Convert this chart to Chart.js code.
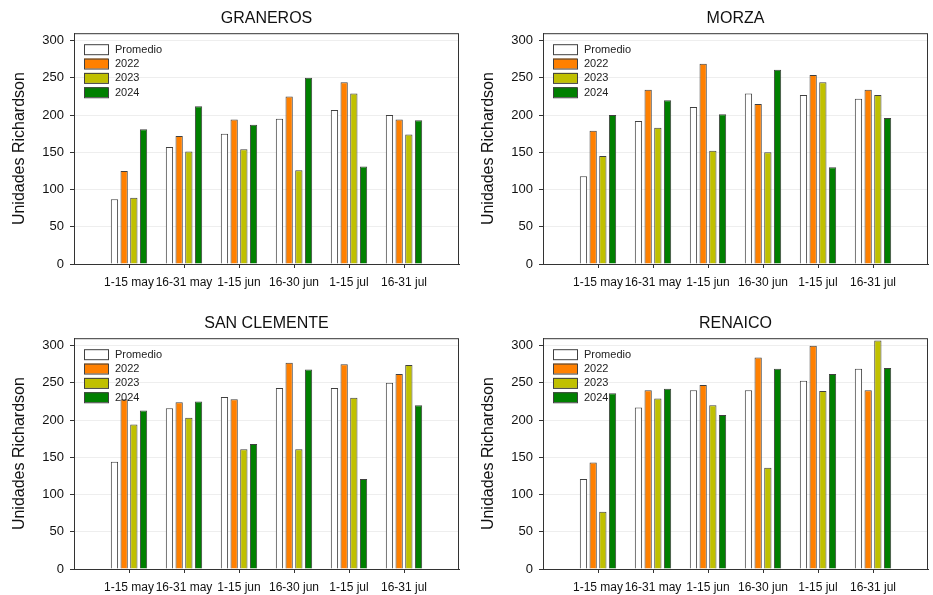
<!DOCTYPE html>
<html>
<head>
<meta charset="utf-8">
<script src="https://cdn.jsdelivr.net/npm/chart.js@4.4.1/dist/chart.umd.min.js"></script>
<style>
  html, body { margin: 0; padding: 0; background: #fff; }
  body { width: 933px; height: 595px; position: relative; overflow: hidden; }
  canvas { position: absolute; }
</style>
</head>
<body>
<canvas id="c1" width="466" height="298" style="left:0px;top:0px"></canvas>
<canvas id="c2" width="466" height="298" style="left:469px;top:0px"></canvas>
<canvas id="c3" width="466" height="290" style="left:0px;top:305px"></canvas>
<canvas id="c4" width="466" height="290" style="left:469px;top:305px"></canvas>
<script>
// periodos (eje x)
var periods = ['1-15 may', '16-31 may', '1-15 jun', '16-30 jun', '1-15 jul', '16-31 jul'];
var seriesNames = ['Promedio', '2022', '2023', '2024'];
var yTicks = [0, 50, 100, 150, 200, 250, 300];

// GRANEROS
var granerosProm = [87, 157, 175, 195, 207, 200];
var graneros2022 = [125, 172, 194, 225, 244, 194];
var graneros2023 = [89, 151, 154, 126, 229, 174];
var graneros2024 = [181, 212, 187, 250, 131, 193];

// MORZA
var morzaProm = [118, 192, 211, 229, 227, 222];
var morza2022 = [179, 234, 269, 215, 254, 234];
var morza2023 = [145, 183, 152, 150, 244, 227];
var morza2024 = [200, 220, 201, 261, 130, 196];

// SAN CLEMENTE
var sanClementeProm = [144, 216, 231, 243, 243, 250];
var sanClemente2022 = [228, 224, 228, 277, 275, 262];
var sanClemente2023 = [194, 203, 161, 161, 230, 274];
var sanClemente2024 = [213, 225, 168, 268, 121, 220];

// RENAICO
var renaicoProm = [121, 217, 240, 240, 253, 269];
var renaico2022 = [143, 240, 247, 284, 300, 240];
var renaico2023 = [77, 229, 220, 136, 239, 307];
var renaico2024 = [236, 242, 207, 269, 262, 270];

var colors = ['#ffffff', '#ff8000', '#c0c000', '#008000'];
var FONT = "'Liberation Sans', Arial, sans-serif";
Chart.defaults.font.family = FONT;
Chart.defaults.color = '#111';

// recuadro alrededor del area del grafico
var framePlugin = {
  id: 'frame',
  afterDraw: function (chart) {
    var a = chart.chartArea, ctx = chart.ctx;
    ctx.save();
    ctx.strokeStyle = '#333';
    ctx.lineWidth = 1;
    ctx.strokeRect(a.left + 0.5, a.top + 0.5, a.right - a.left - 1, a.bottom - a.top);
    ctx.restore();
  }
};

// leyenda dentro del area del grafico
var legendPlugin = {
  id: 'innerLegend',
  afterDatasetsDraw: function (chart) {
    var a = chart.chartArea, ctx = chart.ctx;
    ctx.save();
    chart.data.datasets.forEach(function (ds, i) {
      var cy = a.top + 16 + i * 14.35;
      ctx.fillStyle = ds.backgroundColor;
      ctx.fillRect(a.left + 10, cy - 5, 24, 10);
      ctx.strokeStyle = '#404040';
      ctx.lineWidth = 1;
      ctx.strokeRect(a.left + 10.5, cy - 4.5, 24, 10);
      ctx.fillStyle = '#222';
      ctx.font = '11px ' + FONT;
      ctx.textBaseline = 'middle';
      ctx.textAlign = 'left';
      ctx.fillText(ds.label, a.left + 41, cy + 0.5);
    });
    ctx.restore();
  }
};

function makeChart(id, title, series, bottomH) {
  var labels = [''].concat(periods).concat(['']);
  var datasets = series.map(function (vals, i) {
    return {
      label: seriesNames[i],
      data: [null].concat(vals).concat([null]),
      backgroundColor: colors[i],
      borderColor: '#404040',
      borderWidth: 1,
      categoryPercentage: 0.705,
      barPercentage: 0.75
    };
  });
  return new Chart(document.getElementById(id), {
    type: 'bar',
    data: { labels: labels, datasets: datasets },
    options: {
      responsive: false,
      animation: false,
      devicePixelRatio: 1,
      layout: { padding: { left: 0, right: 6.7, top: 0, bottom: 0 } },
      plugins: {
        legend: { display: false },
        tooltip: { enabled: false },
        title: {
          display: true,
          text: title,
          fullSize: false,
          color: '#111',
          font: { size: 16, weight: 'normal' },
          padding: { top: 9, bottom: 5 }
        }
      },
      scales: {
        x: {
          type: 'category',
          offset: false,
          grid: {
            offset: false,
            drawOnChartArea: false,
            tickLength: 4,
            tickColor: function (c) {
              return (c.index === 0 || c.index === labels.length - 1) ? 'rgba(0,0,0,0)' : '#333';
            }
          },
          border: { display: true, color: '#333' },
          ticks: { autoSkip: false, maxRotation: 0, minRotation: 0, padding: 7, color: '#111', font: { size: 12 } },
          afterFit: function (s) { s.height = bottomH; }
        },
        y: {
          min: yTicks[0],
          max: 310,
          grid: { color: '#eeeeee', tickColor: '#333', tickLength: 4 },
          border: { display: true, color: '#333' },
          afterBuildTicks: function (s) { s.ticks = yTicks.map(function (v) { return { value: v }; }); },
          ticks: { padding: 6, color: '#111', font: { size: 13 } },
          title: {
            display: true,
            text: 'Unidades Richardson',
            color: '#111',
            font: { size: 16 },
            padding: { top: 10, bottom: 0 }
          },
          afterFit: function (s) { s.width = 74; }
        }
      }
    },
    plugins: [legendPlugin, framePlugin]
  });
}

makeChart('c1', 'GRANEROS', [granerosProm, graneros2022, graneros2023, graneros2024], 34);
makeChart('c2', 'MORZA', [morzaProm, morza2022, morza2023, morza2024], 34);
makeChart('c3', 'SAN CLEMENTE', [sanClementeProm, sanClemente2022, sanClemente2023, sanClemente2024], 26);
makeChart('c4', 'RENAICO', [renaicoProm, renaico2022, renaico2023, renaico2024], 26);
</script>
</body>
</html>
